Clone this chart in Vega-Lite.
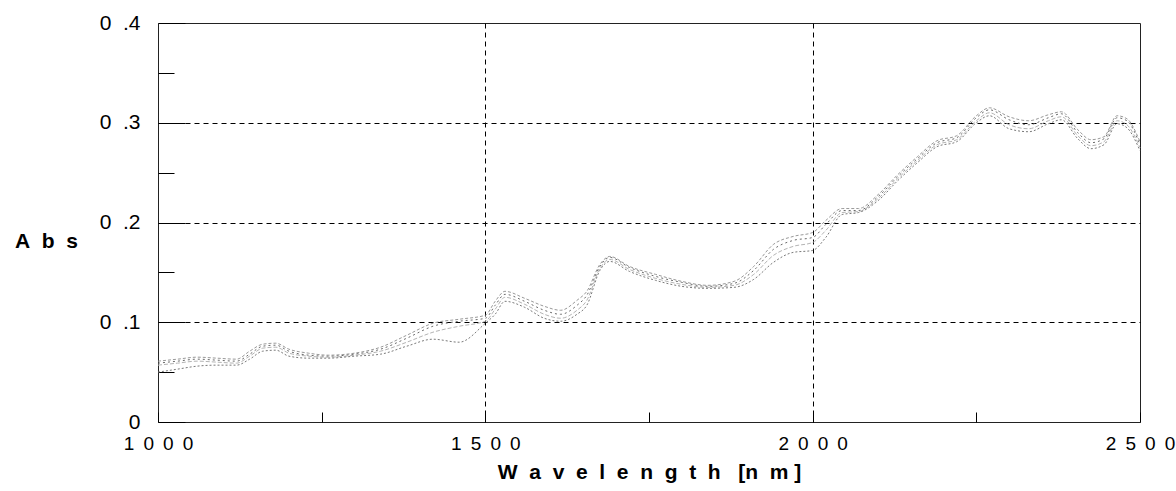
{
  "$schema": "https://vega.github.io/schema/vega-lite/v6.json",
  "autosize": "none",
  "width": 982,
  "height": 399,
  "padding": {"left": 158, "top": 23, "right": 36, "bottom": 69},
  "background": "white",
  "config": {
    "view": {"stroke": "#222", "strokeWidth": 1},
    "font": "Liberation Sans"
  },
  "data": {
    "values": [
      {"wl": 1000, "a": 0.061, "b": 0.059, "c": 0.057, "d": 0.050},
      {"wl": 1030, "a": 0.063, "b": 0.061, "c": 0.059, "d": 0.053},
      {"wl": 1060, "a": 0.065, "b": 0.063, "c": 0.061, "d": 0.056},
      {"wl": 1090, "a": 0.064, "b": 0.062, "c": 0.060, "d": 0.057},
      {"wl": 1120, "a": 0.063, "b": 0.061, "c": 0.059, "d": 0.057},
      {"wl": 1140, "a": 0.071, "b": 0.068, "c": 0.066, "d": 0.063},
      {"wl": 1160, "a": 0.078, "b": 0.076, "c": 0.074, "d": 0.071},
      {"wl": 1180, "a": 0.079, "b": 0.077, "c": 0.075, "d": 0.072},
      {"wl": 1200, "a": 0.073, "b": 0.071, "c": 0.069, "d": 0.066},
      {"wl": 1230, "a": 0.069, "b": 0.067, "c": 0.066, "d": 0.064},
      {"wl": 1260, "a": 0.067, "b": 0.066, "c": 0.065, "d": 0.064},
      {"wl": 1300, "a": 0.069, "b": 0.068, "c": 0.067, "d": 0.066},
      {"wl": 1340, "a": 0.075, "b": 0.073, "c": 0.071, "d": 0.068},
      {"wl": 1380, "a": 0.087, "b": 0.084, "c": 0.080, "d": 0.076},
      {"wl": 1420, "a": 0.099, "b": 0.096, "c": 0.090, "d": 0.083},
      {"wl": 1460, "a": 0.103, "b": 0.101, "c": 0.096, "d": 0.080},
      {"wl": 1500, "a": 0.107, "b": 0.104, "c": 0.101, "d": 0.099},
      {"wl": 1515, "a": 0.121, "b": 0.117, "c": 0.113, "d": 0.108},
      {"wl": 1530, "a": 0.131, "b": 0.128, "c": 0.125, "d": 0.121},
      {"wl": 1560, "a": 0.124, "b": 0.121, "c": 0.118, "d": 0.115},
      {"wl": 1590, "a": 0.116, "b": 0.112, "c": 0.108, "d": 0.104},
      {"wl": 1615, "a": 0.112, "b": 0.108, "c": 0.104, "d": 0.101},
      {"wl": 1640, "a": 0.122, "b": 0.117, "c": 0.112, "d": 0.108},
      {"wl": 1655, "a": 0.131, "b": 0.127, "c": 0.122, "d": 0.117},
      {"wl": 1675, "a": 0.158, "b": 0.156, "c": 0.154, "d": 0.152},
      {"wl": 1690, "a": 0.166, "b": 0.165, "c": 0.163, "d": 0.161},
      {"wl": 1720, "a": 0.156, "b": 0.155, "c": 0.153, "d": 0.151},
      {"wl": 1760, "a": 0.148, "b": 0.146, "c": 0.144, "d": 0.142},
      {"wl": 1800, "a": 0.141, "b": 0.140, "c": 0.138, "d": 0.136},
      {"wl": 1840, "a": 0.137, "b": 0.136, "c": 0.135, "d": 0.134},
      {"wl": 1880, "a": 0.141, "b": 0.139, "c": 0.137, "d": 0.135},
      {"wl": 1910, "a": 0.156, "b": 0.152, "c": 0.148, "d": 0.143},
      {"wl": 1940, "a": 0.178, "b": 0.173, "c": 0.167, "d": 0.160},
      {"wl": 1970, "a": 0.186, "b": 0.182, "c": 0.176, "d": 0.170},
      {"wl": 2000, "a": 0.190, "b": 0.185, "c": 0.180, "d": 0.172},
      {"wl": 2020, "a": 0.202, "b": 0.198, "c": 0.192, "d": 0.185},
      {"wl": 2045, "a": 0.214, "b": 0.212, "c": 0.210, "d": 0.208},
      {"wl": 2070, "a": 0.214, "b": 0.212, "c": 0.211, "d": 0.210},
      {"wl": 2100, "a": 0.228, "b": 0.226, "c": 0.224, "d": 0.222},
      {"wl": 2130, "a": 0.248, "b": 0.246, "c": 0.244, "d": 0.242},
      {"wl": 2160, "a": 0.266, "b": 0.264, "c": 0.262, "d": 0.260},
      {"wl": 2190, "a": 0.282, "b": 0.280, "c": 0.278, "d": 0.276},
      {"wl": 2220, "a": 0.287, "b": 0.285, "c": 0.283, "d": 0.281},
      {"wl": 2250, "a": 0.307, "b": 0.305, "c": 0.302, "d": 0.300},
      {"wl": 2270, "a": 0.315, "b": 0.313, "c": 0.310, "d": 0.307},
      {"wl": 2300, "a": 0.306, "b": 0.303, "c": 0.298, "d": 0.294},
      {"wl": 2330, "a": 0.302, "b": 0.298, "c": 0.294, "d": 0.291},
      {"wl": 2360, "a": 0.308, "b": 0.305, "c": 0.302, "d": 0.299},
      {"wl": 2380, "a": 0.311, "b": 0.309, "c": 0.306, "d": 0.303},
      {"wl": 2405, "a": 0.293, "b": 0.290, "c": 0.287, "d": 0.284},
      {"wl": 2425, "a": 0.283, "b": 0.280, "c": 0.277, "d": 0.274},
      {"wl": 2445, "a": 0.286, "b": 0.284, "c": 0.281, "d": 0.278},
      {"wl": 2465, "a": 0.307, "b": 0.305, "c": 0.302, "d": 0.299},
      {"wl": 2480, "a": 0.304, "b": 0.302, "c": 0.298, "d": 0.295},
      {"wl": 2500, "a": 0.281, "b": 0.278, "c": 0.275, "d": 0.272}
    ]
  },
  "transform": [{"fold": ["a", "b", "c", "d"], "as": ["series", "abs"]}],
  "mark": {"type": "line", "strokeWidth": 1, "interpolate": "monotone"},
  "encoding": {
    "x": {
      "field": "wl",
      "type": "quantitative",
      "scale": {"domain": [1000, 2500], "nice": false, "zero": false},
      "axis": {
        "values": [1000, 1250, 1500, 1750, 2000, 2250, 2500],
        "domain": false,
        "grid": true,
        "gridColor": "#000",
        "gridDash": [5, 4],
        "gridWidth": 1,
        "gridOpacity": {"condition": {"test": "datum.value == 1500 || datum.value == 2000", "value": 1}, "value": 0},
        "ticks": true,
        "tickColor": "#000",
        "tickSize": -10,
        "labelExpr": "datum.value % 500 == 0 ? join(split(toString(datum.value), ''), '\u00a0\u2009') : ''",
        "labelFont": "Liberation Sans",
        "labelFontSize": 19,
        "labelColor": "#000",
        "labelPadding": 22,
        "labelFlush": false,
        "labelOverlap": false,
        "title": "W\u00a0\u00a0a\u00a0\u00a0v\u00a0\u00a0e\u00a0\u00a0l\u00a0\u00a0e\u00a0\u00a0n\u00a0\u00a0g\u00a0\u00a0t\u00a0\u00a0h\u00a0\u00a0\u00a0[n\u00a0\u00a0m\u00a0]",
        "titleFont": "Liberation Sans",
        "titleFontSize": 21,
        "titleFontWeight": "bold",
        "titleColor": "#000",
        "titleAnchor": "middle",
        "titleBaseline": "alphabetic",
        "titleY": 56
      }
    },
    "y": {
      "field": "abs",
      "type": "quantitative",
      "scale": {"domain": [0, 0.4], "nice": false},
      "axis": {
        "values": [0, 0.05, 0.1, 0.15, 0.2, 0.25, 0.3, 0.35, 0.4],
        "domain": false,
        "grid": true,
        "gridColor": "#000",
        "gridDash": [5, 4],
        "gridWidth": 1,
        "gridOpacity": {"condition": {"test": "round(datum.value*100) % 10 == 0 && datum.value > 0.01 && datum.value < 0.39", "value": 1}, "value": 0},
        "ticks": true,
        "tickColor": "#000",
        "tickSize": {"condition": {"test": "round(datum.value*100) % 10 == 0", "value": -27}, "value": -16},
        "labelExpr": "round(datum.value*100) % 10 != 0 ? '' : (datum.value == 0 ? '0' : '0\u00a0\u00a0' + substring(format(datum.value, '.1f'), 1))",
        "labelFont": "Liberation Sans",
        "labelFontSize": 21,
        "labelColor": "#000",
        "labelPadding": 45,
        "labelFlush": false,
        "labelOverlap": false,
        "title": "A\u00a0\u00a0b\u00a0\u00a0s",
        "titleFont": "Liberation Sans",
        "titleFontSize": 21,
        "titleFontWeight": "bold",
        "titleColor": "#000",
        "titleAngle": 0,
        "titleAlign": "center",
        "titleBaseline": "alphabetic",
        "titleX": -112,
        "titleY": 224
      }
    },
    "color": {
      "field": "series",
      "type": "nominal",
      "scale": {"domain": ["a", "b", "c", "d"], "range": ["#999999", "#6a6a6a", "#b4b4b4", "#7a7a7a"]},
      "legend": null
    },
    "strokeDash": {
      "field": "series",
      "type": "nominal",
      "scale": {"domain": ["a", "b", "c", "d"], "range": [[3, 2], [2, 3], [4, 2], [2, 2]]},
      "legend": null
    }
  }
}
